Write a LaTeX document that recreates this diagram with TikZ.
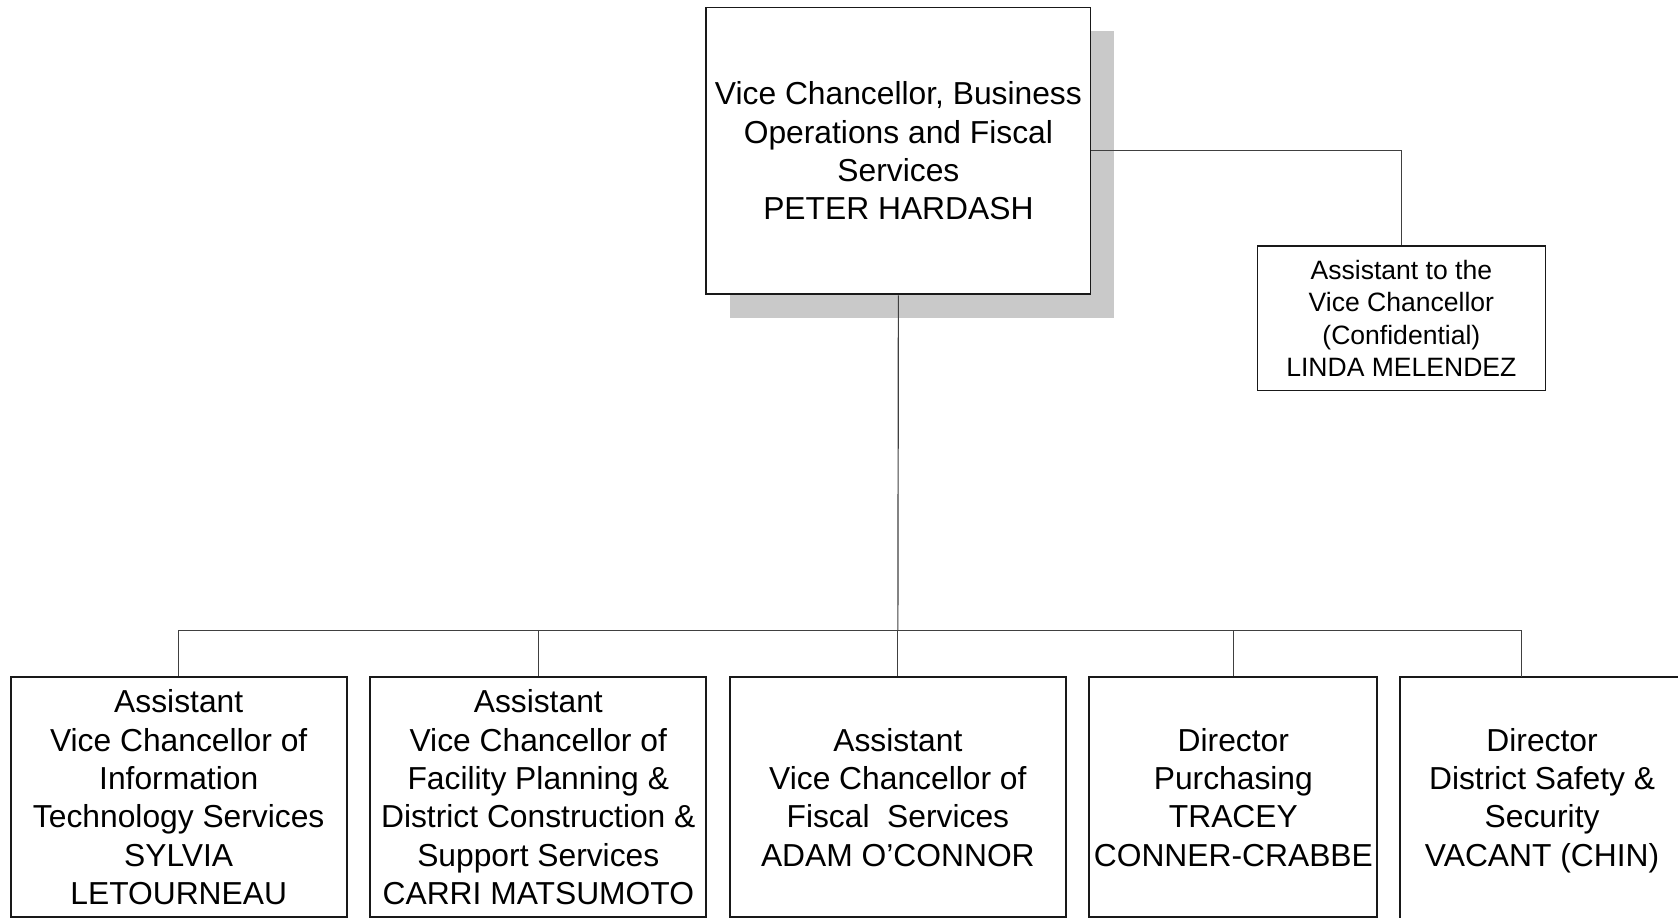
\documentclass[tikz,border=0pt]{standalone}
\usepackage{fontspec}
\setmainfont{Liberation Sans}
\usetikzlibrary{shadows}
\begin{document}
\begin{tikzpicture}[x=1pt,y=-1pt,
  unitbox/.style={rectangle,draw=black!90,line width=1.8pt,fill=white,align=center,inner sep=0pt,
    font=\fontsize{29.7}{35.8}\selectfont},
  smallbox/.style={unitbox,line width=1.5pt,font=\fontsize{24.8}{30}\selectfont},
  tie/.style={draw=black!75,line width=1.1pt}]

\useasboundingbox (0,0) rectangle (1568,857);
\clip (0,0) rectangle (1568,857);

% top
\node[unitbox,minimum width=359,minimum height=268,
  drop shadow={shadow xshift=22pt,shadow yshift=-22pt,fill=black!21,opacity=1}] (vc) at (839.5,141)
  {Vice Chancellor, Business\\Operations and Fiscal\\Services\\PETER HARDASH};

% assistant
\node[smallbox,minimum width=269,minimum height=135] (asst) at (1309.5,297.5)
  {Assistant to the\\Vice Chancellor\\(Confidential)\\LINDA MELENDEZ};

% units
\def\rowy{745}
\node[unitbox,minimum width=314,minimum height=224] (its) at (167,\rowy)
  {Assistant\\Vice Chancellor of\\Information\\Technology Services\\SYLVIA\\LETOURNEAU};
\node[unitbox,minimum width=314,minimum height=224] (fac) at (503,\rowy)
  {Assistant\\Vice Chancellor of\\Facility Planning \&\\District Construction \&\\Support Services\\CARRI MATSUMOTO};
\node[unitbox,minimum width=314,minimum height=224] (fis) at (839,\rowy)
  {Assistant\\Vice Chancellor of\\Fiscal\ \ Services\\ADAM O’CONNOR};
\node[unitbox,minimum width=269,minimum height=224] (pur) at (1152.5,\rowy)
  {Director\\Purchasing\\TRACEY\\CONNER-CRABBE};
\node[unitbox,minimum width=265,minimum height=230] (saf) at (1441,\rowy+3)
  {Director\\District Safety \&\\Security\\VACANT (CHIN)};

%lines
\coordinate (bus) at (839,589);
\coordinate (saftop) at (1422,633);
\draw[tie] (vc.south) -- (bus);
\draw[tie] (vc.east) -| (asst.north);
\draw[tie] (its.north |- bus) -- (saftop |- bus);
\foreach \u in {its,fac,fis,pur}
  \draw[tie] (\u.north |- bus) -- (\u.north);
\draw[tie] (saftop |- bus) -- (saftop);

\end{tikzpicture}
\end{document}
